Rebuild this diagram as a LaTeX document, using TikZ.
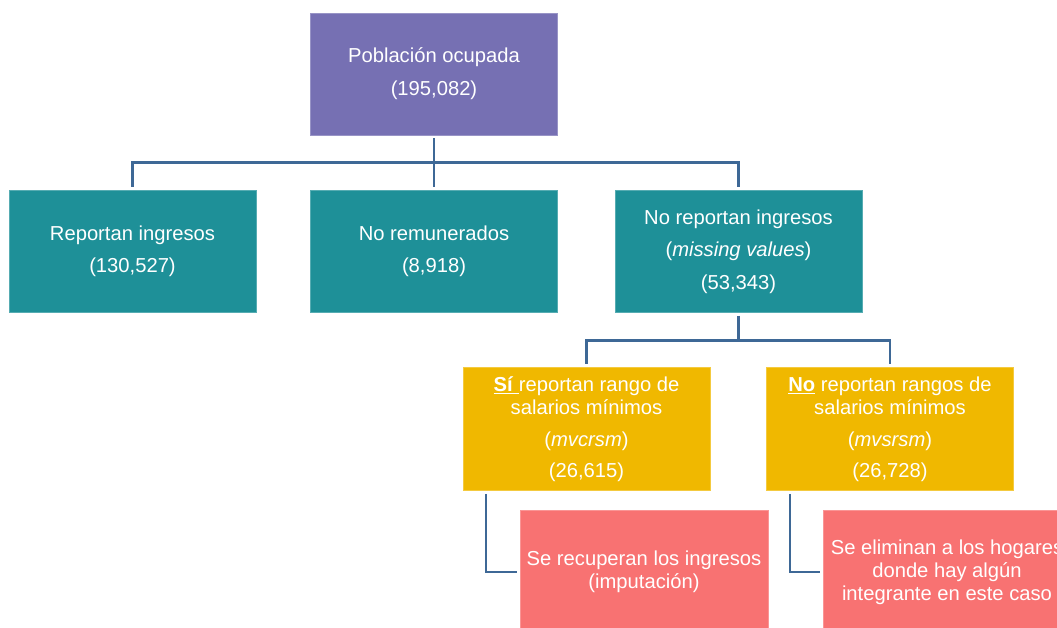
\documentclass[tikz,border=0pt]{standalone}
\usepackage{fontspec}
\setmainfont{Liberation Sans}
\definecolor{cpurple}{RGB}{118,112,179}
\definecolor{cteal}{RGB}{30,144,152}
\definecolor{cyellow}{RGB}{240,184,0}
\definecolor{cpink}{RGB}{248,114,114}
\definecolor{cline}{RGB}{62,104,150}
\tikzset{
  box/.style={fill=#1, draw=#1!75!white, line width=0.6pt, inner sep=0pt,
    minimum width=247pt, minimum height=122pt, align=center, text=white,
    font=\fontsize{20.2}{23}\selectfont},
  conn/.style={draw=cline, line width=2.4pt, shorten <=3pt, shorten >=3pt}
}
\begin{document}
\begin{tikzpicture}[x=1pt,y=-1pt]
\useasboundingbox (0,0) rectangle (1057,627);
\node[box=cpurple] (top) at (434,74) {Población ocupada\\[10pt](195,082)};
\node[box=cteal] (b1) at (132.5,251.5) {Reportan ingresos\\[9pt](130,527)};
\node[box=cteal] (b2) at (434,251.5) {No remunerados\\[9pt](8,918)};
\node[box=cteal] (b3) at (738.5,251.5) {No reportan ingresos\\[9.5pt](\textit{missing values})\\[9.5pt](53,343)};
\node[box=cyellow, minimum height=123pt] (y1) at (586.5,429)
  {\underline{\textbf{Sí}\ }reportan rango de\\ salarios mínimos\\[9pt](\textit{mvcrsm})\\[8pt](26,615)};
\node[box=cyellow, minimum height=123pt] (y2) at (890,429)
  {\underline{\textbf{No}}\ reportan rangos de\\ salarios mínimos\\[9pt](\textit{mvsrsm})\\[8pt](26,728)};
\node[box=cpink, minimum width=248pt, minimum height=124pt] (p1) at (644,572)
  {Se recuperan los ingresos\\(imputación)};
\node[box=cpink, minimum width=248pt, minimum height=124pt] (p2) at (947,572)
  {Se eliminan a los hogares\\donde hay algún\\integrante en este caso};
\draw[conn] (top.south) -- ++(0,27) -| (b1.north);
\draw[conn] (top.south) -- ++(0,27) -| (b3.north);
\draw[conn] (top.south) -- (b2.north);
\draw[conn] (b3.south) -- ++(0,27.5) -| (y1.north);
\draw[conn] (b3.south) -- ++(0,27.5) -| (y2.north);
\draw[conn] ([xshift=23pt]y1.south west) |- (p1.west);
\draw[conn] ([xshift=24pt]y2.south west) |- (p2.west);
\end{tikzpicture}
\end{document}
